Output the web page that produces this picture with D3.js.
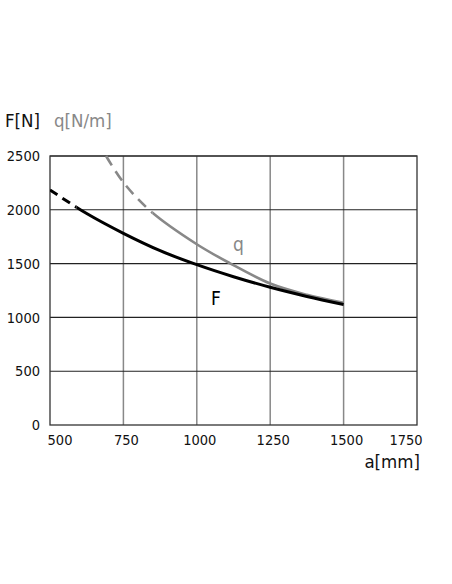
<!DOCTYPE html>
<html><head><meta charset="utf-8">
<script src="https://cdn.jsdelivr.net/npm/d3@7"></script>
<style>body{margin:0;background:#fff}</style>
</head><body><svg id="c" width="452" height="584"></svg>
<script>
const xTicks = [500, 750, 1000, 1250, 1500, 1750];
const yTicks = [0, 500, 1000, 1500, 2000, 2500];
const fA = [500, 625, 750, 875, 1000, 1125, 1250, 1375, 1500];
const fVal = [2185, 1965, 1781, 1620, 1490, 1378, 1280, 1195, 1120];
const fDashEnd = 590;
const qA = [691, 750, 846, 1000, 1113, 1250, 1375, 1500];
const qVal = [2500, 2255, 1980, 1680, 1503, 1315, 1210, 1135];
const qDashEnd = 850;

const font = "'DejaVu Sans Condensed', 'DejaVu Sans', sans-serif";
const svg = d3.select("#c");
const L = 50, R = 417, T = 156, B = 425;
const x = d3.scaleLinear().domain([500, 1750]).range([L, R]);
const y = d3.scaleLinear().domain([0, 2500]).range([B, T]);

// vertical grid (gray)
svg.append("g").selectAll("line").data(xTicks.slice(1, -1)).join("line")
  .attr("x1", d => x(d)).attr("x2", d => x(d)).attr("y1", T).attr("y2", B)
  .attr("stroke", "#888").attr("stroke-width", 1.5);
// horizontal grid (dark)
svg.append("g").selectAll("line").data(yTicks.slice(1)).join("line")
  .attr("x1", L).attr("x2", R).attr("y1", d => y(d)).attr("y2", d => y(d))
  .attr("stroke", "#222").attr("stroke-width", 1.1);
// frame
svg.append("rect").attr("x", L).attr("y", T).attr("width", R - L).attr("height", B - T)
  .attr("fill", "none").attr("stroke", "#333").attr("stroke-width", 1.3);

// y tick labels
svg.append("g").selectAll("text").data(yTicks).join("text")
  .attr("x", 40).attr("y", d => y(d)).attr("dy", "0.36em")
  .attr("text-anchor", "end").attr("font-family", font).attr("font-size", 14.5)
  .attr("fill", "#111").text(d => d);
// x tick labels
svg.append("g").selectAll("text").data(xTicks).join("text")
  .attr("x", (d, i) => x(d) + (i === 0 ? 10 : i === xTicks.length - 1 ? -11 : 3))
  .attr("y", 445).attr("text-anchor", "middle").attr("font-family", font).attr("font-size", 14.5)
  .attr("fill", "#111").text(d => d);

// axis titles
svg.append("text").attr("x", 5).attr("y", 127).attr("font-family", font).attr("font-size", 18.5)
  .attr("fill", "#111").text("F[N]");
svg.append("text").attr("x", 54).attr("y", 127).attr("font-family", font).attr("font-size", 18.5)
  .attr("fill", "#888").text("q[N/m]");
svg.append("text").attr("x", 420).attr("y", 468).attr("text-anchor", "end").attr("font-family", font).attr("font-size", 18.5)
  .attr("fill", "#111").text("a[mm]");

// clip paths
const defs = svg.append("defs");
function clip(id, a0, a1) {
  defs.append("clipPath").attr("id", id).append("rect")
    .attr("x", x(a0)).attr("y", T - 5).attr("width", x(a1) - x(a0)).attr("height", B - T + 10);
}
clip("fD", 500, fDashEnd); clip("fS", fDashEnd, 1750);
clip("qD", 500, qDashEnd); clip("qS", qDashEnd, 1750);

const line = d3.line().curve(d3.curveCatmullRom.alpha(0.5));
const fPts = fA.map((a, i) => [x(a), y(fVal[i])]);
const qPts = qA.map((a, i) => [x(a), y(qVal[i])]);

svg.append("path").attr("d", line(qPts)).attr("clip-path", "url(#qD)")
  .attr("fill", "none").attr("stroke", "#888").attr("stroke-width", 2.6).attr("stroke-dasharray", "11,7");
svg.append("path").attr("d", line(qPts)).attr("clip-path", "url(#qS)")
  .attr("fill", "none").attr("stroke", "#888").attr("stroke-width", 2.6);
svg.append("path").attr("d", line(fPts)).attr("clip-path", "url(#fD)")
  .attr("fill", "none").attr("stroke", "#000").attr("stroke-width", 3).attr("stroke-dasharray", "9,6");
svg.append("path").attr("d", line(fPts)).attr("clip-path", "url(#fS)")
  .attr("fill", "none").attr("stroke", "#000").attr("stroke-width", 3);

// curve labels
svg.append("text").attr("x", 233).attr("y", 251).attr("font-family", font).attr("font-size", 19)
  .attr("fill", "#888").text("q");
svg.append("text").attr("x", 211).attr("y", 305).attr("font-family", font).attr("font-size", 19)
  .attr("fill", "#000").text("F");
</script></body></html>
